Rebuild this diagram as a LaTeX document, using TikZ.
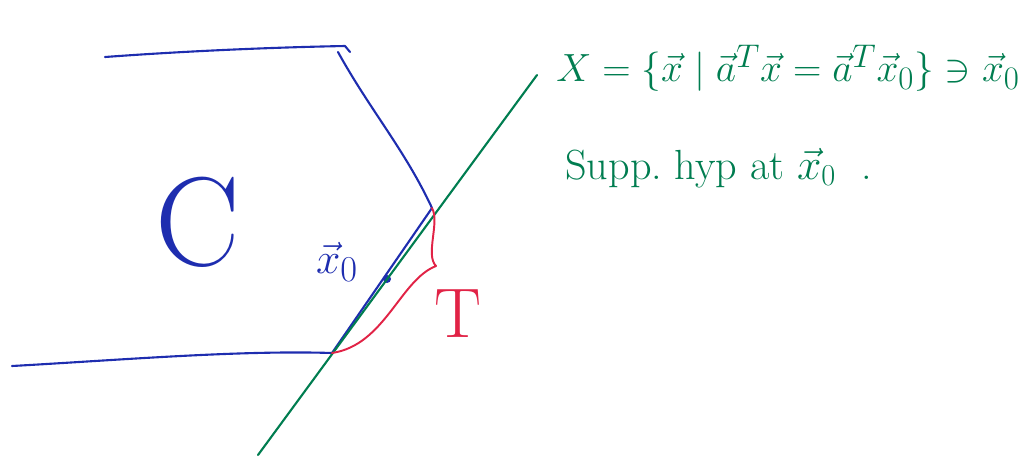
\documentclass[tikz,border=0pt]{standalone}
\usepackage{amsmath}
\usepackage{amssymb}
\usepackage{tikz}
\usetikzlibrary{positioning,arrows.meta}
\definecolor{penblue}{RGB}{30,45,175}
\definecolor{pengreen}{RGB}{0,125,80}
\definecolor{penred}{RGB}{225,35,70}

\begin{document}
\begin{tikzpicture}[
    x=0.02cm, y=-0.02cm,
    blueline/.style={
        draw=penblue,
        line width=1.2pt,
        line cap=round,
        line join=round
    },
    greenline/.style={
        draw=pengreen,
        line width=1.2pt,
        line cap=round
    },
    redline/.style={
        draw=penred,
        line width=1.1pt,
        line cap=round,
        line join=round
    },
    formula/.style={
        text=pengreen,
        anchor=west,
        inner sep=0pt
    },
    bluelabel/.style={
        text=penblue,
        inner sep=0pt
    }
]

\useasboundingbox (0,0) rectangle (1034,461);

% CORNERS OF THE SET C
\coordinate (topleft) at (105,57);
\coordinate (topright) at (345,46);
\coordinate (upper) at (432,208);
\coordinate (lower) at (332,353);
\coordinate (botleft) at (12,366);

% THE SET C
\draw[blueline] (topleft) .. controls (200,50) and (290,47) .. (topright)
    -- (350,52);
\draw[blueline] (338,52) .. controls (370,110) and (405,150) .. (upper);
\draw[blueline] (upper) -- (lower);
\draw[blueline] (botleft) .. controls (120,360) and (240,350) .. (lower);

\node[bluelabel, font=\fontsize{72}{80}\selectfont] (setC) at (198,222) {C};

% THE POINT X0
\coordinate (xzero) at (387,279);
\fill[penblue] (xzero) circle (4);
\node[bluelabel, font=\fontsize{24.88}{30}\selectfont] (xzerolabel) at (337,262)
{$\vec{x}_0$};

% SUPPORTING HYPERPLANE
\coordinate (hypstart) at (258,455);
\coordinate (hypend) at (537,75);
\draw[greenline] (hypstart) -- (hypend);

% THE BRACE T
\draw[redline] (upper) .. controls (440,222) and (425,255) .. (436,266)
    .. controls (400,280) and (385,345) .. (lower);
\node[text=penred, inner sep=0pt, font=\fontsize{40}{44}\selectfont] (faceT)
at (458,314) {T};

% DEFINITION OF X
\node[formula, scale=0.9, font=\fontsize{24.88}{30}\selectfont] (setX) at (556,68)
{$X=\{\vec{x}\mid \vec{a}^{T}\vec{x}=\vec{a}^{T}\vec{x}_0\}\ni\vec{x}_0$};

\node[formula, font=\fontsize{24}{28}\selectfont] (supp) at (565,168)
{Supp.\ hyp at $\vec{x}_0$\ \ .};

\end{tikzpicture}
\end{document}
